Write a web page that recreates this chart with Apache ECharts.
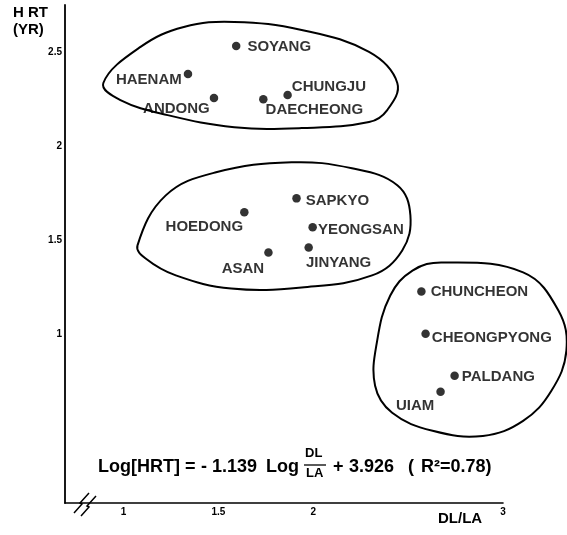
<!DOCTYPE html>
<html><head><meta charset="utf-8">
<script src="https://cdn.jsdelivr.net/npm/echarts@6/dist/echarts.min.js"></script>
<style>html,body{margin:0;padding:0;background:#fff}#c{width:567px;height:535px}</style>
</head><body><div id="c"></div>
<script>
// ---- data ----
const NAMES  = ['SOYANG','HAENAM','ANDONG','DAECHEONG','CHUNGJU',
                'SAPKYO','HOEDONG','YEONGSAN','ASAN','JINYANG',
                'CHUNCHEON','CHEONGPYONG','PALDANG','UIAM'];
const DL_LA  = [1.594, 1.340, 1.477, 1.737, 1.865,
                1.912, 1.637, 1.997, 1.764, 1.976,
                2.570, 2.592, 2.745, 2.671];
const HRT    = [2.532, 2.383, 2.255, 2.249, 2.271,
                1.721, 1.647, 1.567, 1.433, 1.460,
                1.225, 1.001, 0.777, 0.692];
const X_TICKS = [1, 1.5, 2, 3];
const Y_TICKS = [1, 1.5, 2, 2.5];

// hand-drawn cluster outlines (data units)
const OUTLINE_A = [[0.894,2.335],[1.090,2.527],[1.318,2.633],[1.584,2.660],[1.939,2.617],[2.294,2.500],
                   [2.443,2.335],[2.390,2.191],[2.294,2.127],[1.939,2.095],[1.584,2.100],[1.233,2.164],[0.984,2.244]];
const OUTLINE_B = [[1.074,1.471],[1.223,1.737],[1.488,1.860],[1.886,1.913],[2.204,1.881],[2.443,1.791],
                   [2.512,1.631],[2.469,1.444],[2.310,1.311],[1.939,1.247],[1.568,1.241],[1.276,1.311],[1.117,1.401]];
const OUTLINE_C = [[2.682,1.380],[3.106,1.327],[3.292,1.124],[3.334,0.911],[3.255,0.697],[3.106,0.537],
                   [2.894,0.457],[2.629,0.484],[2.416,0.580],[2.326,0.724],[2.337,0.964],[2.406,1.204],[2.523,1.337]];
const OUTLINES = [OUTLINE_A, OUTLINE_B, OUTLINE_C];

// ---- label placement (style only) ----
const LABEL_LAYOUT = {
  SOYANG:['right',7,[0,1]], HAENAM:['left',2,[0,6]], ANDONG:['left',0,[0,11]],
  DAECHEONG:['right',0,[-2,11]], CHUNGJU:['right',0,[0,-8]], SAPKYO:['right',5,[0,2]],
  HOEDONG:['left',0,[3,15]], YEONGSAN:['right',1,[0,3]], ASAN:['left',0,[0,16]],
  JINYANG:['right',0,[-7,15]], CHUNCHEON:['right',5,[0,0]], CHEONGPYONG:['right',2,[0,4]],
  PALDANG:['right',3,[0,1]], UIAM:['left',2,[0,14]]
};

const FONT = 'Liberation Sans';
const INK = '#000';

const chart = echarts.init(document.getElementById('c'), null, {renderer:'canvas'});

const points = NAMES.map((n,i) => {
  const L = LABEL_LAYOUT[n];
  return { name: n, value: [DL_LA[i], HRT[i]],
           label: { position: L[0], distance: L[1], offset: L[2] } };
});

function txt(text, left, top, size) {
  return { type:'text', left:left, top:top,
    style:{ text:text, font:'bold ' + size + 'px "' + FONT + '"', fill:INK } };
}

chart.setOption({
  animation: false,
  backgroundColor: '#fff',
  grid: { left: 65, right: 64, top: 5, bottom: 32, containLabel: false },
  xAxis: {
    type: 'value', min: 0.692, max: 3,
    axisLine: { lineStyle: { color: INK, width: 1.6 } },
    axisTick: { show: false },
    splitLine: { show: false },
    axisLabel: { customValues: X_TICKS, color: INK, fontFamily: FONT, fontWeight: 'bold', fontSize: 10, margin: 4 }
  },
  yAxis: {
    type: 'value', min: 0.1, max: 2.75,
    axisLine: { show: true, lineStyle: { color: INK, width: 1.8 } },
    axisTick: { show: false },
    splitLine: { show: false },
    axisLabel: { customValues: Y_TICKS, color: INK, fontFamily: FONT, fontWeight: 'bold', fontSize: 10, margin: 3 }
  },
  series: [
    {
      type: 'custom', clip: false, silent: true,
      data: OUTLINES.map((o, i) => [o[0][0], o[0][1], i]),
      renderItem: function (params, api) {
        const pts = OUTLINES[params.dataIndex].map(p => api.coord(p));
        return { type: 'polygon', shape: { points: pts, smooth: 0.4 },
                 style: { fill: 'none', stroke: INK, lineWidth: 2 } };
      },
      z: 1
    },
    {
      type: 'scatter', symbol: 'circle', symbolSize: 8.5,
      itemStyle: { color: INK },
      label: { show: true, formatter: '{b}', color: INK, fontFamily: FONT, fontWeight: 'bold', fontSize: 15 },
      data: points, z: 3
    }
  ],
  graphic: [
    txt('H RT', 13, 5, 15),
    txt('(YR)', 13, 22, 15),
    txt('DL/LA', 438, 511, 15),
    // axis break marks
    { type:'polyline', shape:{ points:[[74,513],[82,504],[80,503],[89,493]] }, style:{ stroke:INK, lineWidth:1.5, fill:null } },
    { type:'polyline', shape:{ points:[[81,516],[89,507],[87,506],[96,496]] }, style:{ stroke:INK, lineWidth:1.5, fill:null } },
    // regression equation
    txt('Log[HRT]', 98, 458, 18),
    txt('=', 185, 458, 18),
    txt('- 1.139', 201, 458, 18),
    txt('Log', 266, 458, 18),
    txt('DL', 305, 447, 13),
    { type:'line', shape:{ x1:304, y1:465, x2:326, y2:465 }, style:{ stroke:INK, lineWidth:1.3 } },
    txt('LA', 306, 467, 13),
    txt('+', 333, 458, 18),
    txt('3.926', 349, 458, 18),
    txt('(', 408, 458, 18),
    txt('R²=0.78)', 421, 458, 18)
  ]
});
</script></body></html>
